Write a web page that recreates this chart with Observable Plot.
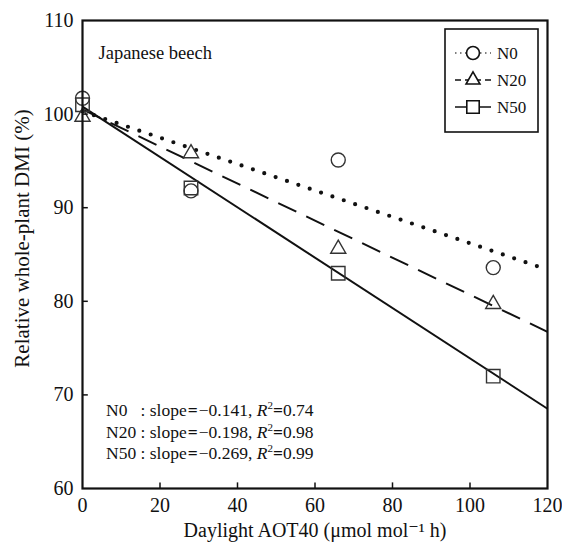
<!DOCTYPE html>
<html>
<head>
<meta charset="utf-8">
<script src="https://cdn.jsdelivr.net/npm/d3@7"></script>
<script src="https://cdn.jsdelivr.net/npm/@observablehq/plot@0.6"></script>
<style>
  html, body { margin: 0; padding: 0; background: white; }
  svg { display: block; }
  svg, svg text { font-family: "Liberation Serif", "Times New Roman", "DejaVu Serif", serif !important; }
</style>
</head>
<body>
<div id="chart"></div>
<script>
// ---- data ----
const groups = ["N0", "N20", "N50"];
const aot = [0, 28, 66, 106];
const n0 = [101.7, 91.8, 95.1, 83.6];
const n20 = [99.7, 95.8, 85.6, 79.7];
const n50 = [101.0, 92.1, 83.0, 72.0];
const slopes = [-0.141, -0.198, -0.269];
const intercepts = [100.3, 100.5, 100.8];
const r2 = [0.74, 0.98, 0.99];
const xTicks = [0, 20, 40, 60, 80, 100, 120];
const yTicks = [60, 70, 80, 90, 100, 110];
const xTitle = "Daylight AOT40 (\u03bcmol mol\u207b\u00b9 h)";
const yTitle = "Relative whole-plant DMI (%)";
const panelTitle = "Japanese beech";

// ---- build tables ----
const series = [n0, n20, n50];
const points = groups.flatMap((g, i) => aot.map((x, j) => ({g, x, y: series[i][j]})));
const xDomain = [xTicks[0], xTicks[xTicks.length - 1]];
const fits = groups.flatMap((g, i) => xDomain.map(x => ({g, x, y: intercepts[i] + slopes[i] * x})));

const symbols = {N0: "circle", N20: "triangle", N50: "square"};
const sizes = {N0: 7, N20: 5.6, N50: 7.6};
const dashes = {N0: "0,12", N20: "20,11", N50: null};
const widths = {N0: 4.2, N20: 2, N50: 2};
const ink = "#111";

const chart = Plot.plot({
  width: 562,
  height: 544,
  marginLeft: 82,
  marginRight: 15,
  marginTop: 20,
  marginBottom: 56,
  x: {domain: xDomain},
  y: {domain: [yTicks[0], yTicks[yTicks.length - 1]]},
  style: {fontFamily: "Liberation Serif, serif", fontSize: "20px", color: ink, background: "white"},
  marks: [
    ...groups.map(g => Plot.line(fits.filter(d => d.g === g), {
      x: "x", y: "y", stroke: ink, strokeWidth: widths[g],
      strokeDasharray: dashes[g], strokeLinecap: g === "N0" ? "round" : "butt"
    })),
    ...groups.map(g => Plot.dot(points.filter(d => d.g === g), {
      x: "x", y: "y", symbol: () => symbols[g], r: sizes[g],
      stroke: "#333", strokeWidth: 1.4, fill: "none"
    })),
    Plot.ruleX(xTicks.slice(1, -1), {x: d => d, y1: yTicks[0], y2: yTicks[0] + 0.6, stroke: ink, strokeWidth: 1.5}),
    Plot.ruleY(yTicks.slice(1, -1), {y: d => d, x1: xTicks[0], x2: xTicks[0] + 1.5, stroke: ink, strokeWidth: 1.5}),
    Plot.frame({stroke: ink, strokeWidth: 2.2}),
    Plot.axisX({ticks: xTicks, tickSize: 0, tickPadding: 9, label: null, fontSize: 20}),
    Plot.axisY({ticks: yTicks, tickSize: 0, tickPadding: 9, label: null, fontSize: 20}),
    Plot.text([xTitle], {frameAnchor: "bottom", dy: 48, fontSize: 20, text: d => d}),
    Plot.text([yTitle], {frameAnchor: "left", textAnchor: "middle", dx: -60, dy: -16, rotate: -90, fontSize: 21, text: d => d}),
    Plot.text([panelTitle], {frameAnchor: "top-left", dx: 16, dy: 25, textAnchor: "start", fontSize: 18.5, text: d => d})
  ]
});
document.getElementById("chart").appendChild(chart);

// ---- legend and fit annotations ----
const svg = d3.select(chart);
const leg = svg.append("g").attr("text-anchor", "start");
leg.append("rect").attr("x", 445).attr("y", 29).attr("width", 93).attr("height", 103)
  .attr("fill", "white").attr("stroke", ink).attr("stroke-width", 1.6);
const legDash = {N0: "1.5,3.5", N20: "6,4", N50: null};
groups.forEach((g, i) => {
  const cy = 53 + i * 27;
  leg.append("line").attr("x1", 455).attr("x2", 491).attr("y1", cy).attr("y2", cy)
    .attr("stroke", g === "N0" ? "#555" : ink).attr("stroke-width", 1.6)
    .attr("stroke-dasharray", legDash[g]);
  const sym = {circle: d3.symbolCircle, triangle: d3.symbolTriangle, square: d3.symbolSquare}[symbols[g]];
  leg.append("path").attr("transform", `translate(473,${cy})`)
    .attr("d", d3.symbol(sym, Math.PI * sizes[g] * sizes[g] * 0.85)())
    .attr("fill", "white").attr("stroke", ink).attr("stroke-width", 1.6);
  leg.append("text").attr("x", 497).attr("y", cy).attr("dy", "0.35em")
    .attr("text-anchor", "start").attr("font-size", 17).attr("fill", ink).text(g);
});

const ann = svg.append("g").attr("font-size", 17.5).attr("fill", ink)
  .attr("text-anchor", "start").style("white-space", "pre");
groups.forEach((g, i) => {
  const t = ann.append("text").attr("x", 106).attr("y", 416 + i * 21.5).attr("text-anchor", "start");
  t.append("tspan").text(g + (g === "N0" ? "   " : " ") + ": slope");
  t.append("tspan").attr("font-weight", "bold").attr("dx", 1).text("=");
  t.append("tspan").attr("dx", 1).text("\u2212" + Math.abs(slopes[i]).toFixed(3) + ", ");
  t.append("tspan").attr("font-style", "italic").text("R");
  t.append("tspan").attr("font-size", 11).attr("dy", -7).text("2");
  t.append("tspan").attr("dy", 7).attr("font-weight", "bold").text("=");
  t.append("tspan").text(r2[i].toFixed(2));
});
</script>
</body>
</html>
